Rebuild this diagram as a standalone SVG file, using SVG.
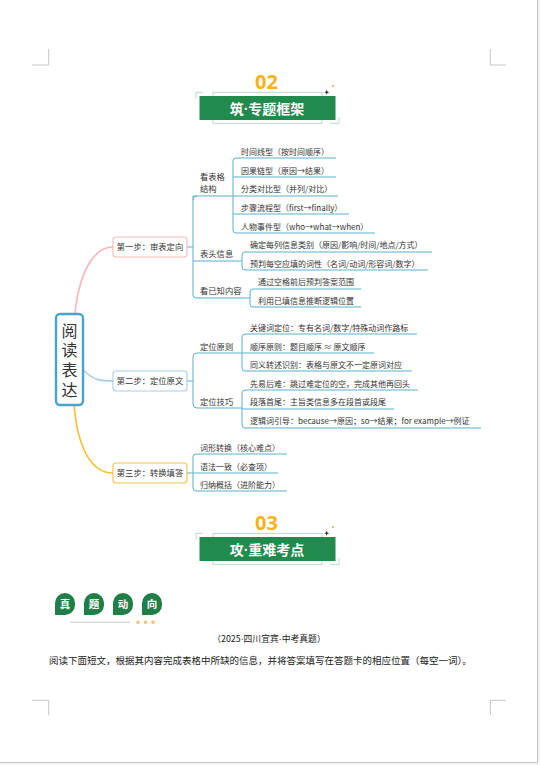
<svg xmlns="http://www.w3.org/2000/svg" width="540" height="765" viewBox="0 0 540 765">
<style>
.t{font-family:"Noto Sans CJK SC","Noto Sans",sans-serif;font-size:8px;fill:#333}
.lab{font-family:"Noto Sans CJK SC","Noto Sans",sans-serif;font-size:8.3px;fill:#333}
.br{fill:none;stroke:#5BAFD0;stroke-width:1}
.crn{fill:none;stroke:#b5b5b5;stroke-width:0.8}
.num{font-family:"Noto Sans","Noto Sans CJK SC",sans-serif;font-size:20px;font-weight:bold;fill:#F7B21A;text-anchor:middle}
.bt{font-family:"Noto Sans CJK SC","Noto Sans",sans-serif;font-size:14px;font-weight:bold;fill:#fff;text-anchor:middle}
.dot{font-family:"Liberation Sans",sans-serif}
.g{fill:#218A4D}
.leaf{fill:#1F7F47}
.lt{font-family:"Noto Sans CJK SC","Noto Sans",sans-serif;font-size:10.5px;font-weight:bold;fill:#fff;text-anchor:middle}
</style>
<defs>
<g id="badge">
<rect x="213" y="92.3" width="109" height="31" fill="none" stroke="#a9cdb8" stroke-width="0.8"/>
<rect x="199.5" y="96" width="136" height="24" class="g"/>
<path d="M196,98.5 V92.3 H203" fill="none" stroke="#a9cdb8" stroke-width="0.8"/>
<path d="M330,123.3 H339 V117" fill="none" stroke="#a9cdb8" stroke-width="0.8"/>
<path d="M326.7,89.8 L327.4,91.6 L329.2,92.3 L327.4,93 L326.7,94.8 L326,93 L324.2,92.3 L326,91.6 Z" fill="#333"/>
<circle cx="333" cy="86" r="1" fill="#F2A33A"/>
</g>
</defs>
<rect x="0" y="0" width="540" height="765" fill="#f4f4f4"/>
<rect x="0" y="0" width="537.5" height="762.5" fill="#fff"/>
<path d="M537.5,0 V762.5 H0" fill="none" stroke="#c4c4c4" stroke-width="1"/>
<g id="corner-marks">
<path class="crn" d="M32,65 H48.7 V49"/>
<path class="crn" d="M490.3,49 V65 H505.7"/>
<path class="crn" d="M32,700.3 H48.7 V715.3"/>
<path class="crn" d="M490.3,715.3 V700.3 H505.7"/>
</g>
<g id="header-02">
<text class="num" x="266.5" y="89">02</text>
<use href="#badge"/>
<text class="bt" x="267" y="113.5">筑<tspan class="dot">·</tspan>专题框架</text>
</g>
<g id="connectors">
<path d="M75,314 C79,272 94,247 113,247" fill="none" stroke="#F8B6BA" stroke-width="1.6"/>
<path d="M83,370 C95,381 101,381 113,381" fill="none" stroke="#A3CDF1" stroke-width="1.6"/>
<path d="M74,405 C78,450 92,473 113,473" fill="none" stroke="#F5BF2F" stroke-width="1.6"/>
<path class="br" d="M187,247 H193"/>
<path class="br" d="M338,196 H193 M233,196 V161 Q233,158 236,158 H336 M233,196 V230 Q233,233 236,233 H375 M233,177 H336 M233,214 H349"/>
<path class="br" d="M193,196 Q193,196 193,199 V295 Q193,298 196,298 H250 M193,200 Q193,196 197,196"/>
<path class="br" d="M193,261 H242 M242,261 V255 Q242,252 245,252 H432 M242,261 V267 Q242,270 245,270 H428"/>
<path class="br" d="M250,298 V292 Q250,289 253,289 H361 M250,298 V304 Q250,307 253,307 H361"/>
<path class="br" d="M187,381 H193 M193,381 V357 Q193,353 197,353 H374 M193,381 V404 Q193,408 197,408 H242"/>
<path class="br" d="M242,353 V337 Q242,334 245,334 H417 M242,353 V368 Q242,371 245,371 H412"/>
<path class="br" d="M242,409 H394 M242,409 V393 Q242,390 245,390 H418 M242,409 V425 Q242,428 245,428 H481"/>
<path class="br" d="M187,473 H278 M193,473 V457 Q193,454 196,454 H287 M193,473 V488 Q193,491 196,491 H287"/>
</g>
<g id="root">
<rect x="56" y="314" width="27" height="91" rx="4" fill="#fff" stroke="#4AA3CB" stroke-width="2.4"/>
<text x="69.5" y="322.5" writing-mode="vertical-rl" letter-spacing="3.8" font-family="&quot;Noto Sans CJK SC&quot;,sans-serif" font-size="16" fill="#333">阅读表达</text>
</g>
<g id="step1">
<rect x="113" y="237" width="74" height="20" rx="3" fill="#fff" stroke="#F6B9BC" stroke-width="1.1"/>
<text class="lab" x="150" y="250" text-anchor="middle">第一步：审表定向</text>
</g>
<g id="step2">
<rect x="113" y="371" width="74" height="20" rx="3" fill="#fff" stroke="#A5CEF0" stroke-width="1.1"/>
<text class="lab" x="150" y="384" text-anchor="middle">第二步：定位原文</text>
</g>
<g id="step3">
<rect x="113" y="463" width="74" height="20" rx="3" fill="#fff" stroke="#F5C244" stroke-width="1.1"/>
<text class="lab" x="150" y="476" text-anchor="middle">第三步：转换填答</text>
</g>
<g id="s1-structure"><text class="lab" x="200" y="180">看表格</text><text class="lab" x="200" y="191.5">结构</text></g>
<g id="s1-header"><text class="lab" x="200" y="256.5">表头信息</text></g>
<g id="s1-known"><text class="lab" x="200" y="294">看已知内容</text></g>
<g id="s1a1"><text class="t" x="241" y="155">时间线型（按时间顺序）</text></g>
<g id="s1a2"><text class="t" x="241" y="173.5">因果链型（原因→结果）</text></g>
<g id="s1a3"><text class="t" x="241" y="192">分类对比型（并列/对比）</text></g>
<g id="s1a4"><text class="t" x="241" y="210.5">步骤流程型（first→finally）</text></g>
<g id="s1a5"><text class="t" x="241" y="229.5">人物事件型（who→what→when）</text></g>
<g id="s1b1"><text class="t" x="250" y="248">确定每列信息类别（原因/影响/时间/地点/方式）</text></g>
<g id="s1b2"><text class="t" x="250" y="266.5">预判每空应填的词性（名词/动词/形容词/数字）</text></g>
<g id="s1c1"><text class="t" x="258" y="285">通过空格前后预判答案范围</text></g>
<g id="s1c2"><text class="t" x="258" y="303.5">利用已填信息推断逻辑位置</text></g>
<g id="s2-principle"><text class="lab" x="200" y="349.5">定位原则</text></g>
<g id="s2-skill"><text class="lab" x="200" y="404.5">定位技巧</text></g>
<g id="s2a1"><text class="t" x="250" y="330.5">关键词定位：专有名词/数字/特殊动词作路标</text></g>
<g id="s2a2"><text class="t" x="250" y="349.5">顺序原则：题目顺序 ≈ 原文顺序</text></g>
<g id="s2a3"><text class="t" x="250" y="367.5">同义转述识别：表格与原文不一定原词对应</text></g>
<g id="s2b1"><text class="t" x="250" y="386.5">先易后难：跳过难定位的空，完成其他再回头</text></g>
<g id="s2b2"><text class="t" x="250" y="405">段落首尾：主旨类信息多在段首或段尾</text></g>
<g id="s2b3"><text class="t" x="250" y="424">逻辑词引导：because→原因；so→结果；for example→例证</text></g>
<g id="s3a"><text class="t" x="200" y="450.5">词形转换（核心难点）</text></g>
<g id="s3b"><text class="t" x="200" y="469.5">语法一致（必查项）</text></g>
<g id="s3c"><text class="t" x="200" y="487.5">归纳概括（进阶能力）</text></g>
<g id="header-03">
<text class="num" x="266.5" y="530">03</text>
<use href="#badge" transform="translate(0,441)"/>
<text class="bt" x="267" y="554.5">攻<tspan class="dot">·</tspan>重难考点</text>
</g>
<g id="zhenti">
<path class="leaf" d="M55,603 A10,10 0 0 1 75,603 V605 A10,10 0 0 1 65,615 H55 Z"/>
<path class="leaf" d="M84,603 A10,10 0 0 1 104,603 V605 A10,10 0 0 1 94,615 H84 Z"/>
<path class="leaf" d="M113,603 A10,10 0 0 1 133,603 V605 A10,10 0 0 1 123,615 H113 Z"/>
<path class="leaf" d="M142,603 A10,10 0 0 1 162,603 V605 A10,10 0 0 1 152,615 H142 Z"/>
<text class="lt" x="65" y="608">真</text>
<text class="lt" x="94" y="608">题</text>
<text class="lt" x="123" y="608">动</text>
<text class="lt" x="152" y="608">向</text>
<path d="M70,622.3 H130" stroke="#bbb" stroke-width="0.8"/>
<circle cx="138" cy="622.3" r="1.8" fill="#F4C56F"/>
<circle cx="145.5" cy="622.3" r="1.8" fill="#F4C56F"/>
<circle cx="153" cy="622.3" r="1.8" fill="#F4C56F"/>
</g>
<g id="question">
<text x="269" y="642" font-family="&quot;Noto Sans CJK SC&quot;,sans-serif" font-size="8.8" fill="#222" text-anchor="middle">（2025<tspan class="dot">·</tspan>四川宜宾<tspan class="dot">·</tspan>中考真题）</text>
<text x="49" y="663.5" font-family="&quot;Noto Sans CJK SC&quot;,sans-serif" font-size="9.5" fill="#222">阅读下面短文，根据其内容完成表格中所缺的信息，并将答案填写在答题卡的相应位置（每空一词）。</text>
</g>
</svg>
